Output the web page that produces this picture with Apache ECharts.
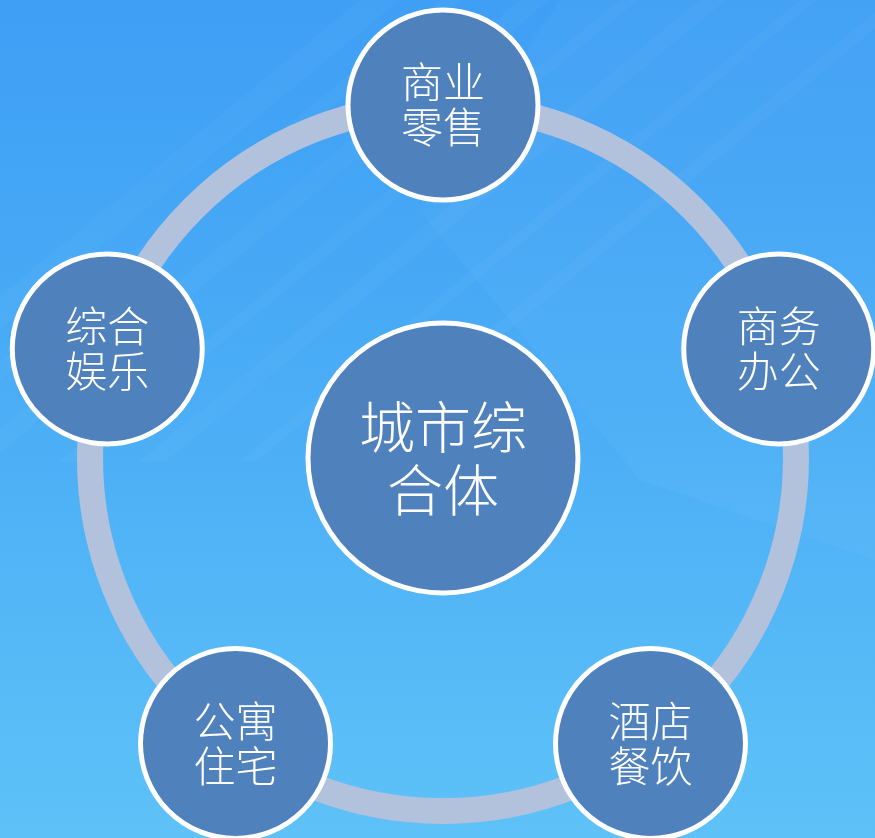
<!DOCTYPE html>
<html>
<head>
<meta charset="utf-8">
<script src="https://cdn.jsdelivr.net/npm/echarts@6/dist/echarts.min.js"></script>
<style>html,body{margin:0;padding:0;}#c{width:875px;height:838px;}</style>
</head>
<body>
<div id="c"></div>
<script>
// Node data
const nodeNames = ['城市综合体', '商业零售', '商务办公', '酒店餐饮', '公寓住宅', '综合娱乐'];
const nodeLabels = ['城市综\n合体', '商业\n零售', '商务\n办公', '酒店\n餐饮', '公寓\n住宅', '综合\n娱乐'];
const nodeRadius = [0, 1, 1, 1, 1, 1];
const nodeAngle = [0, 90, 18, 306, 234, 162];

const chart = echarts.init(document.getElementById('c'));
const W = 875, H = 838;

const data = nodeNames.map((n, i) => {
  const isCenter = i === 0;
  return {
    name: n,
    value: [nodeRadius[i], nodeAngle[i]],
    symbolSize: isCenter ? 270 : 190,
    label: {
      formatter: nodeLabels[i],
      fontSize: isCenter ? 56 : 42,
      lineHeight: isCenter ? 63 : 45
    }
  };
});

// decorative background streaks
const streaks = [];
const streakDefs = [[-200, 40], [-120, 22], [-40, 30], [60, 18], [140, 26], [240, 16], [330, 20]];
streakDefs.forEach(([off, w]) => {
  streaks.push({
    type: 'polygon', silent: true, z: -9,
    shape: { points: [[off, H * 0.55], [off + w, H * 0.55], [off + w + 560, 0], [off + 560, 0]] },
    style: { fill: 'rgba(255,255,255,0.03)' }
  });
});

chart.setOption({
  animation: false,
  graphic: [
    {
      type: 'rect', silent: true, z: -10,
      shape: { x: 0, y: 0, width: W, height: H },
      style: {
        fill: {
          type: 'linear', x: 0, y: 0, x2: 0, y2: 1,
          colorStops: [
            { offset: 0, color: '#3E9FF5' },
            { offset: 0.5, color: '#4BAEF6' },
            { offset: 1, color: '#5EC2F8' }
          ]
        }
      }
    },
    ...streaks,
    {
      type: 'polygon', silent: true, z: -9,
      shape: { points: [[560, 0], [875, 0], [875, 560], [640, 480], [420, 210]] },
      style: { fill: 'rgba(255,255,255,0.03)' }
    }
  ],
  polar: { center: [443, 458], radius: 353 },
  angleAxis: {
    type: 'value', min: 0, max: 360, startAngle: 0, clockwise: false,
    axisLine: { show: true, lineStyle: { color: '#B2C2DC', width: 26 } },
    axisTick: { show: false }, axisLabel: { show: false },
    splitLine: { show: false }
  },
  radiusAxis: {
    type: 'value', min: 0, max: 1,
    axisLine: { show: false }, axisTick: { show: false },
    axisLabel: { show: false }, splitLine: { show: false }
  },
  series: [{
    type: 'scatter',
    coordinateSystem: 'polar',
    symbol: 'circle',
    clip: false,
    data: data,
    itemStyle: { color: '#4F81BD', borderColor: '#FFFFFF', borderWidth: 5, opacity: 1 },
    label: {
      show: true, position: 'inside', color: '#FFFFFF',
      fontFamily: '"Noto Sans CJK SC", sans-serif', fontWeight: 300
    },
    emphasis: { disabled: true }
  }]
});
</script>
</body>
</html>
